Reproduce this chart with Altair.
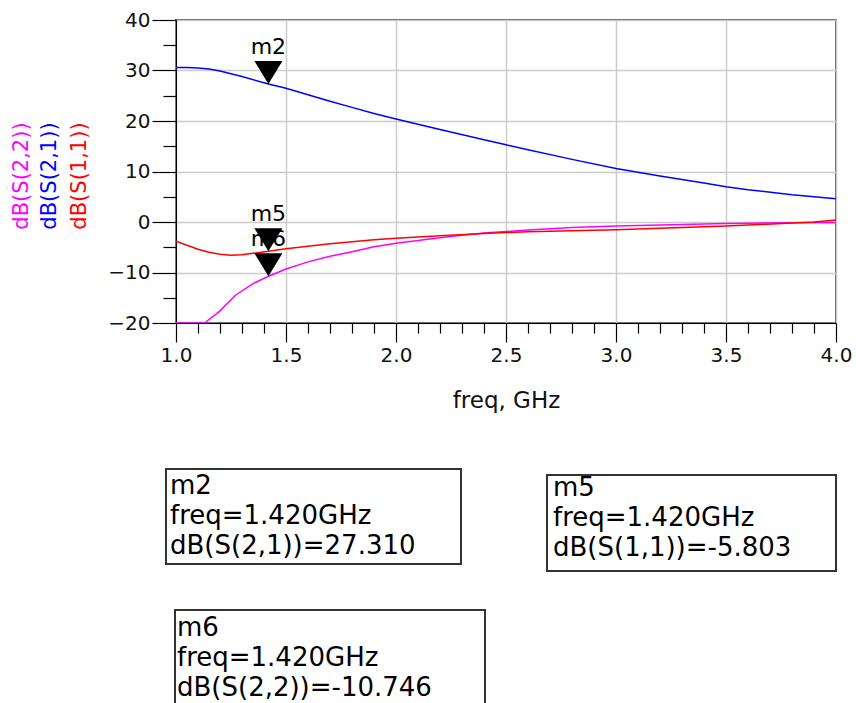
import altair as alt
import pandas as pd

# ---------------- data ----------------
freq_s21 = [1.0, 1.05, 1.1, 1.15, 1.2, 1.3, 1.42, 1.5, 1.6, 1.7, 1.8, 1.9, 2.0,
            2.2, 2.4, 2.5, 2.6, 2.8, 3.0, 3.2, 3.4, 3.5, 3.6, 3.8, 4.0]
db_s21 = [30.6, 30.6, 30.5, 30.3, 29.9, 28.8, 27.31, 26.5, 25.2, 23.9, 22.7, 21.5, 20.4,
          18.3, 16.3, 15.3, 14.3, 12.4, 10.6, 9.1, 7.7, 7.0, 6.4, 5.4, 4.6]

freq_s11 = [1.0, 1.05, 1.1, 1.15, 1.2, 1.25, 1.3, 1.35, 1.42, 1.5, 1.6, 1.7, 1.8, 1.9,
            2.0, 2.2, 2.4, 2.5, 2.6, 2.8, 3.0, 3.2, 3.4, 3.5, 3.6, 3.8, 3.9, 4.0]
db_s11 = [-3.8, -4.6, -5.4, -6.0, -6.4, -6.6, -6.5, -6.2, -5.803, -5.3, -4.8, -4.3, -3.9, -3.5,
          -3.2, -2.7, -2.3, -2.1, -1.95, -1.75, -1.55, -1.25, -0.95, -0.8, -0.6, -0.2, 0.0, 0.4]

freq_s22 = [1.0, 1.13, 1.2, 1.27, 1.35, 1.42, 1.5, 1.6, 1.7, 1.8, 1.9, 2.0, 2.2, 2.3,
            2.4, 2.5, 2.6, 2.8, 3.0, 3.2, 3.4, 3.5, 3.6, 3.8, 4.0]
db_s22 = [-20.0, -20.0, -17.6, -14.5, -12.2, -10.746, -9.3, -7.9, -6.8, -5.9, -4.9, -4.2, -3.1, -2.6,
          -2.2, -1.9, -1.6, -1.1, -0.8, -0.6, -0.4, -0.3, -0.25, -0.15, -0.1]

trace_names = ["dB(S(2,2))", "dB(S(2,1))", "dB(S(1,1))"]
trace_colors = ["#ff00ff", "#0000ff", "#ff0000"]

marker_names = ["m2", "m5", "m6"]
marker_traces = ["S(2,1)", "S(1,1)", "S(2,2)"]
marker_freq = [1.420, 1.420, 1.420]
marker_db = [27.310, -5.803, -10.746]

x_ticks = [round(1.0 + 0.1 * i, 1) for i in range(31)]
y_ticks = list(range(-20, 45, 5))

# ---------------- tables ----------------
df = pd.concat([
    pd.DataFrame({"freq": freq_s22, "db": db_s22, "trace": trace_names[0]}),
    pd.DataFrame({"freq": freq_s21, "db": db_s21, "trace": trace_names[1]}),
    pd.DataFrame({"freq": freq_s11, "db": db_s11, "trace": trace_names[2]}),
])

mk = pd.DataFrame({"name": marker_names, "freq": marker_freq, "db": marker_db,
                   "tr": marker_traces})
mk["readout"] = [f"{n}\nfreq={f:.3f}GHz\ndB({t})={v:.3f}"
                 for n, f, t, v in zip(marker_names, marker_freq, marker_traces, marker_db)]

FONT = "DejaVu Sans"

x_major = "abs(datum.value*2 - round(datum.value*2)) < 0.001"
y_major = "abs(datum.value % 10) < 0.001"

xscale = alt.Scale(domain=[1, 4], nice=False, zero=False)
yscale = alt.Scale(domain=[-20, 40], nice=False, zero=False)

xaxis = alt.Axis(
    values=x_ticks,
    labelExpr=f"{x_major} ? format(datum.value, '.1f') : ''",
    tickSize={"condition": {"test": x_major, "value": 19}, "value": 10},
    gridOpacity={"condition": {"test": x_major, "value": 1}, "value": 0},
    grid=True, gridColor="#cccccc", gridWidth=1.5,
    domainColor="black", tickColor="black", tickWidth=1.2,
    labelFont=FONT, labelFontSize=20, labelColor="#111111", labelPadding=3,
    labelFlush=False, labelOverlap=False,
    title="freq, GHz", titleFont=FONT, titleFontSize=23, titleFontWeight="normal",
    titleColor="#111111", titlePadding=24,
)
yaxis = alt.Axis(
    values=y_ticks,
    labelExpr=f"{y_major} ? format(datum.value, 'd') : ''",
    tickSize={"condition": {"test": y_major, "value": 24}, "value": 13},
    gridOpacity={"condition": {"test": y_major, "value": 1}, "value": 0},
    grid=True, gridColor="#cccccc", gridWidth=1.5,
    domainColor="black", tickColor="black", tickWidth=1.2,
    labelFont=FONT, labelFontSize=20, labelColor="#111111", labelPadding=2,
    labelFlush=False, labelOverlap=False,
    title=None,
)

X = alt.X("freq:Q", scale=xscale, axis=xaxis)
Y = alt.Y("db:Q", scale=yscale, axis=yaxis)

lines = alt.Chart(df).mark_line(strokeWidth=1.5, clip=True).encode(
    x=X, y=Y,
    color=alt.Color("trace:N", scale=alt.Scale(domain=trace_names, range=trace_colors),
                    legend=None),
)

mk_labels = alt.Chart(mk).mark_text(font=FONT, fontSize=22, dy=-30, align="center",
                                    baseline="alphabetic", color="black").encode(
    x=X, y=Y, text="name:N")

tri = alt.Chart(mk).mark_point(shape="M -1 -1.64 L 1 -1.64 L 0 0 Z", filled=True,
                               size=784, color="black", opacity=1).encode(
    x=X, y=Y)

layers = [lines, mk_labels, tri]

# rotated trace legend on the left
legend_x = [-154, -126, -96]
for name, col, lx in zip(trace_names, trace_colors, legend_x):
    layers.append(
        alt.Chart(pd.DataFrame({"t": [name]})).mark_text(
            font=FONT, fontSize=21, angle=270, align="center", baseline="middle"
        ).encode(text="t:N", x=alt.value(lx), y=alt.value(156), color=alt.value(col))
    )

# marker readout boxes (layout in pixels relative to plot origin)
box_layout = {
    "m2": dict(x=-10, y=449, x2=285, y2=544, tx=-6, ty=474),
    "m5": dict(x=371, y=455, x2=660, y2=551, tx=377, ty=476),
    "m6": dict(x=-1, y=590, x2=309, y2=700, tx=1, ty=616),
}
for i, n in enumerate(marker_names):
    b = box_layout[n]
    sub = mk.iloc[[i]]
    layers.append(
        alt.Chart(sub).mark_rect(fillOpacity=0, stroke="#333333", strokeWidth=2).encode(
            x=alt.value(b["x"]), x2=alt.value(b["x2"]),
            y=alt.value(b["y"]), y2=alt.value(b["y2"]))
    )
    layers.append(
        alt.Chart(sub).mark_text(font=FONT, fontSize=26, align="left", baseline="alphabetic",
                                 lineBreak="\n", lineHeight=30, color="black").encode(
            text="readout:N", x=alt.value(b["tx"]), y=alt.value(b["ty"]))
    )

chart = alt.layer(*layers).properties(
    width=660, height=303,
    padding={"left": 176, "top": 20, "right": 20, "bottom": 380},
    autosize=alt.AutoSizeParams(type="none"),
    background="white",
).configure_view(stroke="#222222", strokeWidth=1.5)

chart.save("out.html", embed_options={"renderer": "svg", "actions": False})
